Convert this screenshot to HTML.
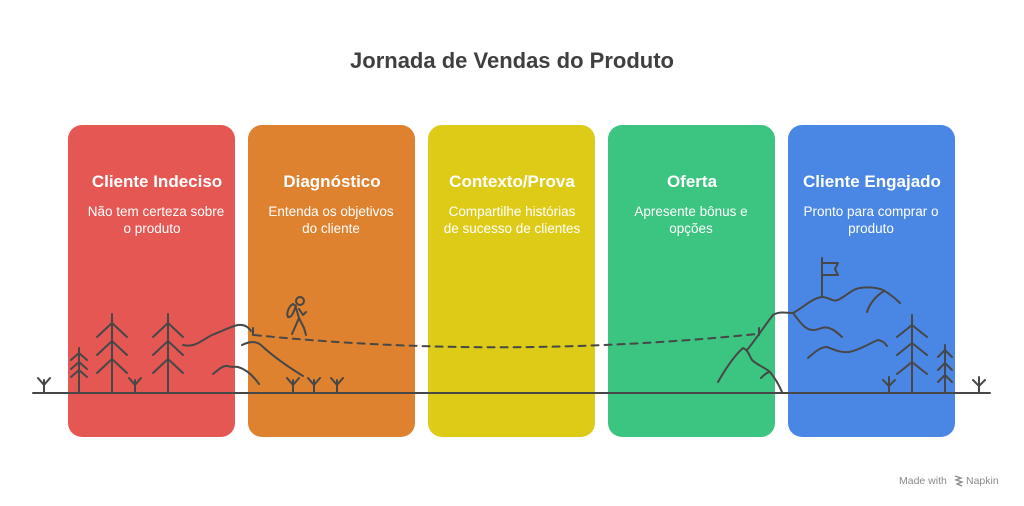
<!DOCTYPE html>
<html><head><meta charset="utf-8"><style>
body{margin:0;background:#fff;}
svg{display:block;font-family:"Liberation Sans",sans-serif;}
</style></head><body>
<svg width="1024" height="506" viewBox="0 0 1024 506">
<text x="512" y="68" text-anchor="middle" font-size="22" font-weight="bold" fill="#3f3f3f">Jornada de Vendas do Produto</text>
<rect x="68" y="125" width="167" height="312" rx="14" fill="#E55753"/>
<rect x="248" y="125" width="167" height="312" rx="14" fill="#DE8230"/>
<rect x="428" y="125" width="167" height="312" rx="14" fill="#DDCB18"/>
<rect x="608" y="125" width="167" height="312" rx="14" fill="#3CC481"/>
<rect x="788" y="125" width="167" height="312" rx="14" fill="#4A87E4"/>
<g fill="#fff" text-anchor="middle">
<g font-size="17" font-weight="bold">
<text x="157" y="187">Cliente Indeciso</text>
<text x="332" y="187">Diagnóstico</text>
<text x="512" y="187">Contexto/Prova</text>
<text x="692" y="187">Oferta</text>
<text x="872" y="187">Cliente Engajado</text>
</g>
<g font-size="13.5">
<text x="156" y="216">Não tem certeza sobre</text><text x="152" y="233">o produto</text>
<text x="331" y="216">Entenda os objetivos</text><text x="331" y="233">do cliente</text>
<text x="512" y="216">Compartilhe histórias</text><text x="512" y="233">de sucesso de clientes</text>
<text x="691" y="216">Apresente bônus e</text><text x="691" y="233">opções</text>
<text x="871" y="216">Pronto para comprar o</text><text x="871" y="233">produto</text>
</g></g>
<g stroke="#474747" stroke-width="2" fill="none" stroke-linecap="round" stroke-linejoin="round">
<line x1="33" y1="393" x2="990" y2="393"/>
<path d="M112 314V393M97 337L112 323L127 337M97 355L112 341L127 355M97 373L112 359L127 373"/>
<path d="M168 314V393M153 337L168 323L183 337M153 355L168 341L183 355M153 373L168 359L183 373"/>
<path d="M79 348V393M71 360L79 353L87 360M71 369L79 362L87 369M71 377L79 370L87 377"/>
<path d="M912 315V393M897 337L912 325L927 337M897 355L912 343L927 355M897 374L912 362L927 374"/>
<path d="M945 345V393M938 357L945 350L952 357M938 370L945 363L952 370M938 382L945 375L952 382"/>
<path d="M44 393V380M38 378L44 385L50 378"/>
<path d="M135 393V380M129 378L135 385L141 378"/>
<path d="M293 393V380M287 378L293 385L299 378"/>
<path d="M314 393V380M308 378L314 385L320 378"/>
<path d="M337 393V380M331 378L337 385L343 378"/>
<path d="M889 393V377M883 380L889 386L895 380"/>
<path d="M979 393V377M973 380L979 386L985 380"/>
<path d="M183 345C195 348 202 340 212 335C225 330 232 326 238 325C245 324 249 328 251 331"/>
<path d="M242 345C248 342 256 340 262 346C275 358 290 368 303 376"/>
<path d="M213 374C218 370 223 365 228 366C232 368 234 366 238 367C245 369 252 374 259 384"/>
<path d="M253 328V335"/>
<path d="M254 335Q500 360 757 334" stroke-dasharray="7 6"/>
<path d="M759 328V335"/>
<circle cx="300" cy="301" r="4"/>
<path d="M293 304C289 306 286 313 288 317C291 318 293 314 296 306Z"/>
<path d="M296 308L299 318L292 334M299 318L304 328L306 335M299 309L303 315L306 312"/>
<path d="M718 382C726 368 735 355 743 348C748 350 749 355 752 360C757 365 766 368 770 372C775 378 779 385 782 392"/>
<path d="M761 378C764 375 767 372 770 372"/>
<path d="M747 350C757 338 765 325 773 315C779 311 786 313 793 313C803 308 812 298 822 297C829 297 832 302 838 300C845 297 852 289 860 288C866 287 876 287 883 290C890 294 896 299 900 303"/>
<path d="M867 312C870 303 876 296 884 291"/>
<path d="M793 313C800 322 805 330 813 330C819 330 823 326 829 328C835 330 839 334 842 337"/>
<path d="M808 358C815 352 820 347 827 347C833 349 840 353 849 352C860 350 870 343 878 340C883 341 885 343 887 346"/>
<path d="M822 297V258M822 263H838L835 269L838 275H822"/>
</g>
<text x="899" y="484" font-size="10.5" fill="#8a8a8a">Made with</text>
<path d="M955 476l6 2-5 2 6 2-5 2 5 2" stroke="#8a8a8a" stroke-width="1.3" fill="none"/>
<text x="966" y="484" font-size="10.5" fill="#8a8a8a">Napkin</text>
</svg>
</body></html>
